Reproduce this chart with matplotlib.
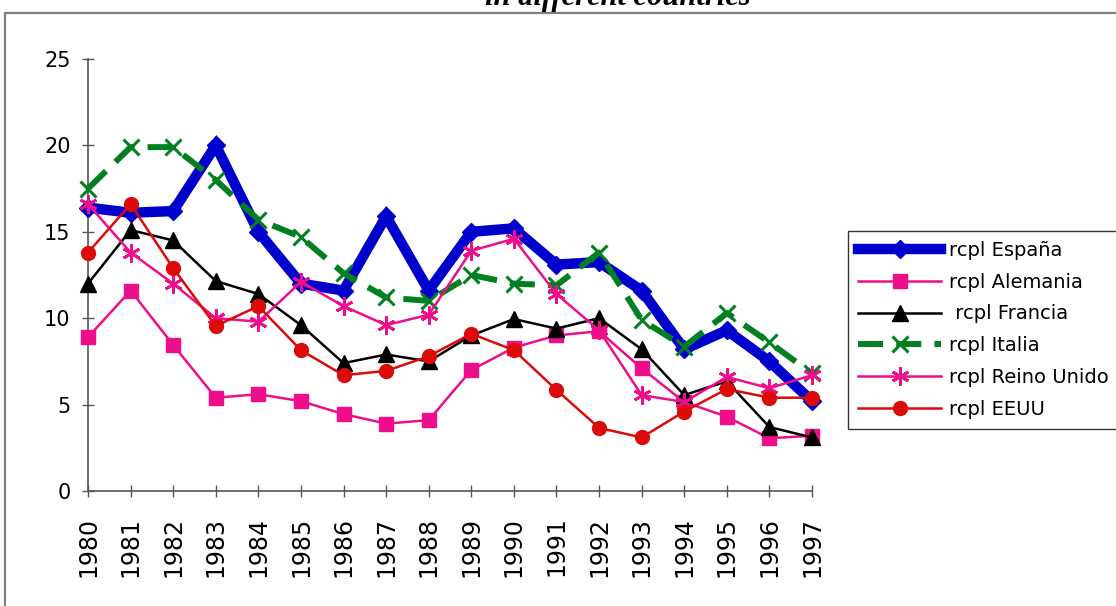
import matplotlib
matplotlib.use("Agg")
import matplotlib.pyplot as plt
from matplotlib.patches import Rectangle

years = list(range(1980, 1998))
espana = [16.4, 16.1, 16.2, 20.0, 15.0, 12.0, 11.6, 15.9, 11.6, 15.0, 15.2, 13.1, 13.25, 11.6, 8.2, 9.3, 7.5, 5.2]
alemania = [8.9, 11.6, 8.45, 5.4, 5.6, 5.2, 4.45, 3.9, 4.1, 7.0, 8.3, 9.0, 9.25, 7.1, 5.15, 4.3, 3.05, 3.2]
francia = [12.0, 15.1, 14.5, 12.15, 11.4, 9.6, 7.4, 7.9, 7.5, 9.0, 9.95, 9.4, 10.0, 8.2, 5.55, 6.35, 3.7, 3.1]
italia = [17.5, 19.9, 19.9, 18.0, 15.7, 14.7, 12.6, 11.2, 11.0, 12.5, 12.0, 11.9, 13.8, 9.9, 8.35, 10.3, 8.6, 6.8]
reino = [16.6, 13.8, 12.0, 10.0, 9.8, 12.1, 10.7, 9.6, 10.2, 13.9, 14.6, 11.4, 9.3, 5.55, 5.15, 6.6, 5.95, 6.7]
eeuu = [13.8, 16.6, 12.9, 9.55, 10.7, 8.15, 6.7, 6.95, 7.8, 9.1, 8.15, 5.85, 3.65, 3.1, 4.6, 5.9, 5.4, 5.4]
labels = ["rcpl España", "rcpl Alemania", " rcpl Francia", "rcpl Italia", "rcpl Reino Unido", "rcpl EEUU"]
title = "in different countries"
yticks = [0, 5, 10, 15, 20, 25]

plt.rcParams['font.family'] = ['DejaVu Sans']

W, H = 1116, 606
fig = plt.figure(figsize=(W / 100, H / 100), dpi=100)
ax = fig.add_axes([88 / W, 1 - 491 / H, (812 - 88) / W, (491 - 59) / H])

pink = '#EE0E8C'
ax.plot(years, espana, color='#0000CC', lw=7.5, marker='D', ms=9, label=labels[0], zorder=3,
        solid_joinstyle='miter')
ax.plot(years, alemania, color=pink, lw=1.8, marker='s', ms=10, label=labels[1], zorder=4)
ax.plot(years, francia, color='black', lw=1.8, marker='^', ms=11, label=labels[2], zorder=4)
ln, = ax.plot(years, italia, color='#008020', lw=4.3, marker='x', ms=12, mew=2.2, label=labels[3], zorder=3)
ln.set_dashes((4.2, 2.2))
ax.plot(years, reino, color=pink, lw=1.8, marker=(6, 2, 0), ms=13, mew=2, label=labels[4], zorder=4)
ax.plot(years, eeuu, color='#DD0A0A', lw=1.8, marker='o', ms=10, label=labels[5], zorder=4)

ax.set_xlim(1980, 1997)
ax.set_ylim(0, 25)
ax.set_xticks(years)
ax.set_xticklabels([str(y) for y in years], rotation=90, fontsize=17)
ax.set_yticks(yticks)
ax.set_yticklabels([str(v) for v in yticks], fontsize=15)
for s in ['top', 'right']:
    ax.spines[s].set_visible(False)
for s in ['left', 'bottom']:
    ax.spines[s].set_color('#555555')
    ax.spines[s].set_linewidth(1.2)
    ax.spines[s].set_zorder(1)
ax.tick_params(axis='x', direction='inout', length=9, width=1, color='#555555', pad=14)
ax.tick_params(axis='y', direction='inout', length=9, width=1, color='#555555', pad=8)
for l in ax.get_lines():
    l.set_clip_on(False)

leg = fig.legend(loc='upper left', bbox_to_anchor=(848 / W, 1 - 231 / H),
                 fontsize=14, frameon=True, fancybox=False, shadow=False,
                 handlelength=4.3, handletextpad=0.4, borderpad=0.5, labelspacing=0.66,
                 borderaxespad=0)
leg.get_frame().set_edgecolor('black')
leg.get_frame().set_linewidth(1.0)

# chart-area border
fig.patches.append(Rectangle((5 / W, -0.05), 1.2, 1 - 13 / H + 0.05, transform=fig.transFigure,
                             fill=False, edgecolor='#808080', lw=1.6, zorder=0))
fig.text(618 / W, 1 - 5 / H, title, ha='center', va='baseline', fontsize=22,
         family='Liberation Serif', fontweight='bold', style='italic')

fig.savefig('out.png', dpi=100, facecolor='white')
